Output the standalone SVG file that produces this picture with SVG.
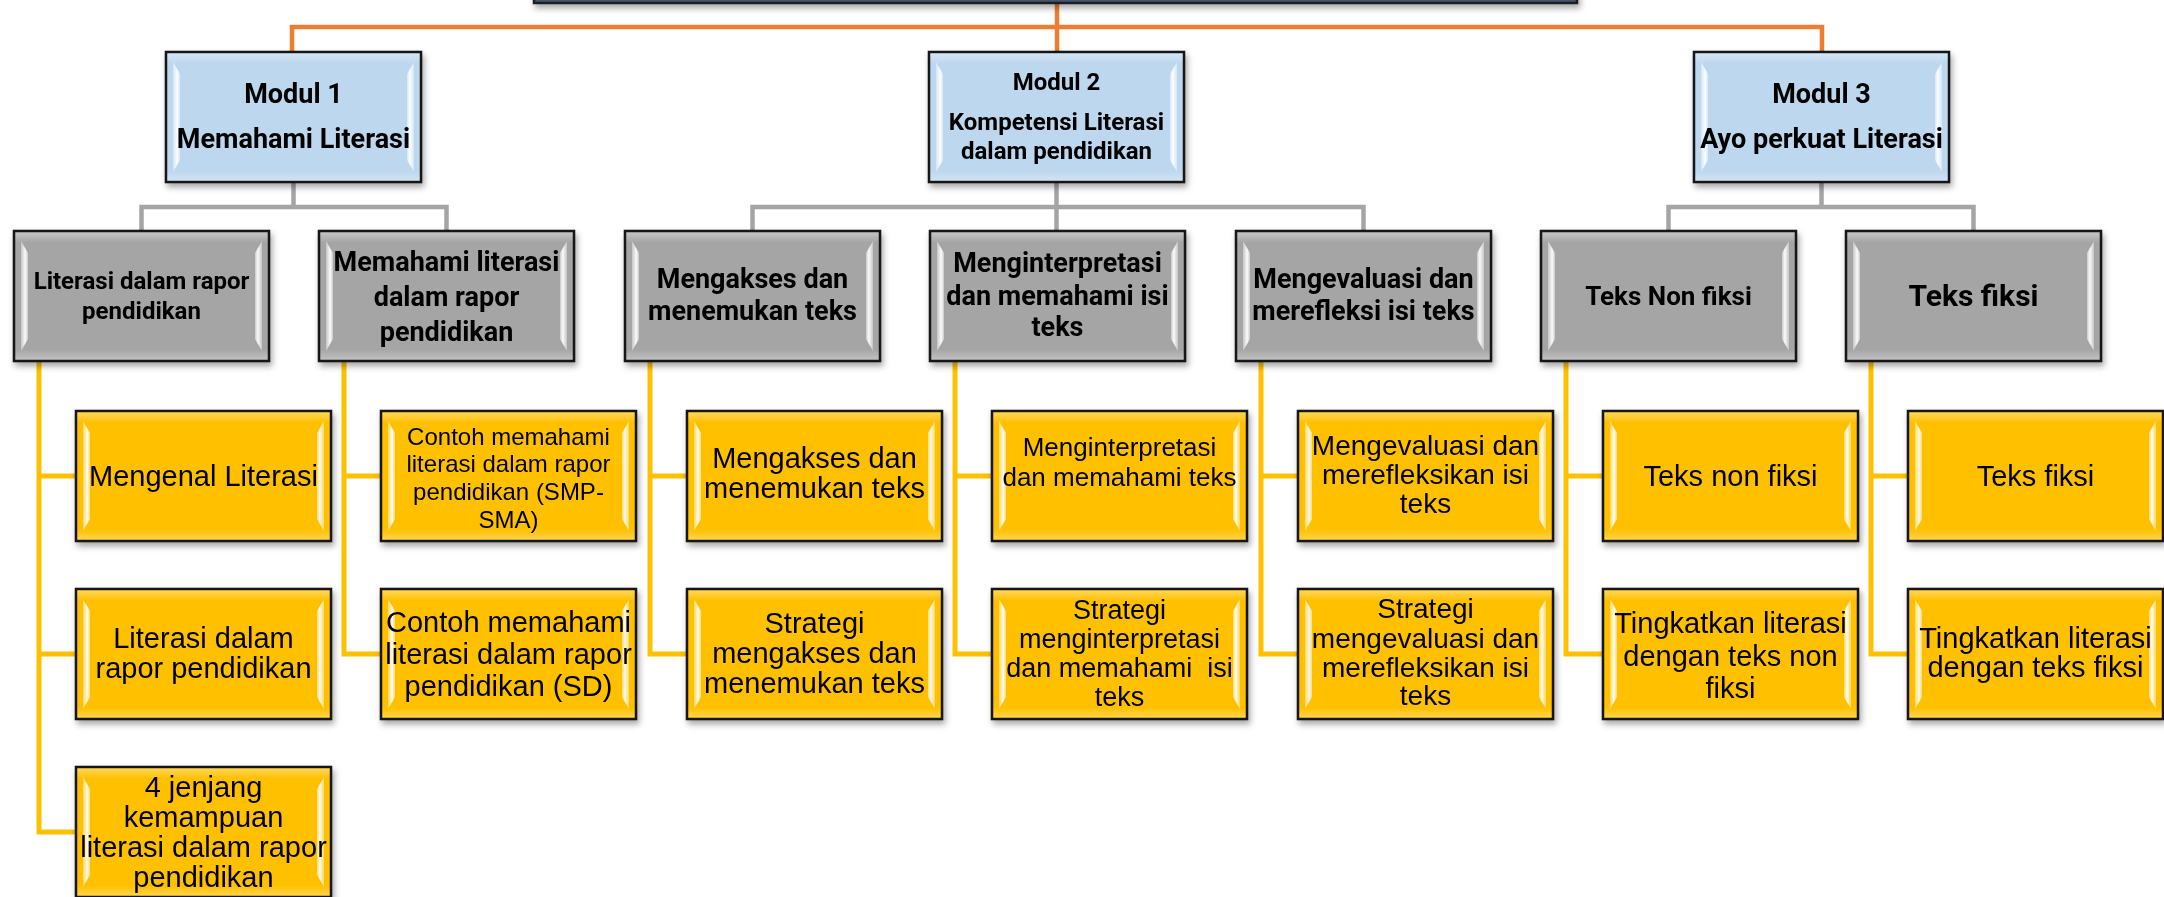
<svg xmlns="http://www.w3.org/2000/svg" xmlns:xlink="http://www.w3.org/1999/xlink" width="2164" height="897" viewBox="0 0 2164 897">
<style>
.box{stroke:#141414;stroke-width:2.5}
.mod{fill:#BDD7EE}
.gry{fill:#A5A5A5}
.yel{fill:#FFC000}
.tb{font-family:Roboto,"Noto Sans","Liberation Sans",sans-serif;font-weight:bold;fill:#000;text-anchor:middle}
.tr{font-family:"Liberation Sans",Arial,sans-serif;fill:#000;text-anchor:middle}
.org{stroke:#ED7D31;stroke-width:4.5;fill:none}
.gc{stroke:#A5A5A5;stroke-width:4.5;fill:none}
.yc{stroke:#FFC000;stroke-width:5;fill:none}
</style>
<defs>
<filter id="sh" x="-10%" y="-10%" width="125%" height="130%">
<feDropShadow dx="2" dy="4" stdDeviation="3" flood-color="#000" flood-opacity="0.35"/>
</filter>
<linearGradient id="hlL" x1="0" x2="1" y1="0" y2="0">
<stop offset="0" stop-color="#fff" stop-opacity="0.35"/>
<stop offset="0.6" stop-color="#fff" stop-opacity="0.95"/>
<stop offset="1" stop-color="#fff" stop-opacity="0.4"/>
</linearGradient>
<linearGradient id="hlR" x1="1" x2="0" y1="0" y2="0">
<stop offset="0" stop-color="#fff" stop-opacity="0.35"/>
<stop offset="0.6" stop-color="#fff" stop-opacity="0.95"/>
<stop offset="1" stop-color="#fff" stop-opacity="0.4"/>
</linearGradient>
<linearGradient id="band" x1="0" x2="0" y1="0" y2="1">
<stop offset="0" stop-color="#fff" stop-opacity="0.35"/>
<stop offset="0.08" stop-color="#fff" stop-opacity="0"/>
<stop offset="0.92" stop-color="#fff" stop-opacity="0"/>
<stop offset="1" stop-color="#fff" stop-opacity="0.3"/>
</linearGradient>
<g id="bev">
<rect x="1.5" y="1.5" width="252" height="127" fill="url(#band)"/>
<polygon points="7,10 14,22 14,108 7,120" fill="url(#hlL)"/>
<polygon points="248,10 241,22 241,108 248,120" fill="url(#hlR)"/>
</g>
</defs>
<rect width="2164" height="897" fill="#fff"/>

<g id="connectors">
<path class="org" d="M292 52 V27 H1822 V52"/>
<path class="org" d="M1057 0 V52"/>
<path class="gc" d="M293.5 182 V207 M141.5 231 V207 H446.5 V231"/>
<path class="gc" d="M1056.5 182 V231 M752.5 231 V207 H1363.5 V231"/>
<path class="gc" d="M1821.5 182 V207 M1668.5 231 V207 H1973.5 V231"/>
<path class="yc" d="M39 361 V832 H76 M39 476 H76 M39 654 H76"/>
<path class="yc" d="M344 361 V654 H381 M344 476 H381"/>
<path class="yc" d="M650 361 V654 H687 M650 476 H687"/>
<path class="yc" d="M955 361 V654 H992 M955 476 H992"/>
<path class="yc" d="M1261 361 V654 H1298 M1261 476 H1298"/>
<path class="yc" d="M1566 361 V654 H1603 M1566 476 H1603"/>
<path class="yc" d="M1871 361 V654 H1908 M1871 476 H1908"/>
</g>

<g id="n-top" filter="url(#sh)">
<rect x="534" y="-60" width="1043" height="63" fill="#44546A" stroke="#1a1f28" stroke-width="2.5"/>
</g>

<g id="n-m1" filter="url(#sh)">
<rect class="box mod" x="166" y="52" width="255" height="130"/>
<use href="#bev" x="166" y="52"/>
<text class="tb" font-size="27" x="293.5" y="103">Modul 1</text>
<text class="tb" font-size="27" x="293.5" y="148">Memahami Literasi</text>
</g>
<g id="n-m2" filter="url(#sh)">
<rect class="box mod" x="929" y="52" width="255" height="130"/>
<use href="#bev" x="929" y="52"/>
<text class="tb" font-size="24" x="1056.5" y="90">Modul 2</text>
<text class="tb" font-size="24" x="1056.5" y="130">Kompetensi Literasi</text>
<text class="tb" font-size="24" x="1056.5" y="159">dalam pendidikan</text>
</g>
<g id="n-m3" filter="url(#sh)">
<rect class="box mod" x="1694" y="52" width="255" height="130"/>
<use href="#bev" x="1694" y="52"/>
<text class="tb" font-size="27" x="1821.5" y="103">Modul 3</text>
<text class="tb" font-size="27" x="1821.5" y="148">Ayo perkuat Literasi</text>
</g>

<g id="n-g0" filter="url(#sh)">
<rect class="box gry" x="14" y="231" width="255" height="130"/>
<use href="#bev" x="14" y="231"/>
<text class="tb" font-size="24" x="141.5" y="289">Literasi dalam rapor</text>
<text class="tb" font-size="24" x="141.5" y="319">pendidikan</text>
</g>
<g id="n-g1" filter="url(#sh)">
<rect class="box gry" x="319" y="231" width="255" height="130"/>
<use href="#bev" x="319" y="231"/>
<text class="tb" font-size="27" x="446.5" y="271">Memahami literasi</text>
<text class="tb" font-size="27" x="446.5" y="306">dalam rapor</text>
<text class="tb" font-size="27" x="446.5" y="341">pendidikan</text>
</g>
<g id="n-g2" filter="url(#sh)">
<rect class="box gry" x="625" y="231" width="255" height="130"/>
<use href="#bev" x="625" y="231"/>
<text class="tb" font-size="27" x="752.5" y="288">Mengakses dan</text>
<text class="tb" font-size="27" x="752.5" y="320">menemukan teks</text>
</g>
<g id="n-g3" filter="url(#sh)">
<rect class="box gry" x="930" y="231" width="255" height="130"/>
<use href="#bev" x="930" y="231"/>
<text class="tb" font-size="27" x="1057.5" y="272">Menginterpretasi</text>
<text class="tb" font-size="27" x="1057.5" y="305">dan memahami isi</text>
<text class="tb" font-size="27" x="1057.5" y="336">teks</text>
</g>
<g id="n-g4" filter="url(#sh)">
<rect class="box gry" x="1236" y="231" width="255" height="130"/>
<use href="#bev" x="1236" y="231"/>
<text class="tb" font-size="27" x="1363.5" y="288">Mengevaluasi dan</text>
<text class="tb" font-size="27" x="1363.5" y="320">merefleksi isi teks</text>
</g>
<g id="n-g5" filter="url(#sh)">
<rect class="box gry" x="1541" y="231" width="255" height="130"/>
<use href="#bev" x="1541" y="231"/>
<text class="tb" font-size="26" x="1668.5" y="305">Teks Non fiksi</text>
</g>
<g id="n-g6" filter="url(#sh)">
<rect class="box gry" x="1846" y="231" width="255" height="130"/>
<use href="#bev" x="1846" y="231"/>
<text class="tb" font-size="30" x="1973.5" y="306">Teks fiksi</text>
</g>

<g id="n-y00" filter="url(#sh)">
<rect class="box yel" x="76" y="411" width="255" height="130"/>
<use href="#bev" x="76" y="411"/>
<text class="tr" font-size="29" x="203.5" y="486">Mengenal Literasi</text>
</g>
<g id="n-y01" filter="url(#sh)">
<rect class="box yel" x="76" y="589" width="255" height="130"/>
<use href="#bev" x="76" y="589"/>
<text class="tr" font-size="29" x="203.5" y="648">Literasi dalam</text>
<text class="tr" font-size="29" x="203.5" y="678">rapor pendidikan</text>
</g>
<g id="n-y02" filter="url(#sh)">
<rect class="box yel" x="76" y="767" width="255" height="130"/>
<use href="#bev" x="76" y="767"/>
<text class="tr" font-size="29" x="203.5" y="797">4 jenjang</text>
<text class="tr" font-size="29" x="203.5" y="827">kemampuan</text>
<text class="tr" font-size="29" x="203.5" y="857">literasi dalam rapor</text>
<text class="tr" font-size="29" x="203.5" y="887">pendidikan</text>
</g>

<g id="n-y10" filter="url(#sh)">
<rect class="box yel" x="381" y="411" width="255" height="130"/>
<use href="#bev" x="381" y="411"/>
<text class="tr" font-size="24" x="508.5" y="445">Contoh memahami</text>
<text class="tr" font-size="24" x="508.5" y="472">literasi dalam rapor</text>
<text class="tr" font-size="24" x="508.5" y="500">pendidikan (SMP-</text>
<text class="tr" font-size="24" x="508.5" y="528">SMA)</text>
</g>
<g id="n-y11" filter="url(#sh)">
<rect class="box yel" x="381" y="589" width="255" height="130"/>
<use href="#bev" x="381" y="589"/>
<text class="tr" font-size="29" x="508.5" y="632">Contoh memahami</text>
<text class="tr" font-size="29" x="508.5" y="664">literasi dalam rapor</text>
<text class="tr" font-size="29" x="508.5" y="696">pendidikan (SD)</text>
</g>

<g id="n-y20" filter="url(#sh)">
<rect class="box yel" x="687" y="411" width="255" height="130"/>
<use href="#bev" x="687" y="411"/>
<text class="tr" font-size="29" x="814.5" y="468">Mengakses dan</text>
<text class="tr" font-size="29" x="814.5" y="498">menemukan teks</text>
</g>
<g id="n-y21" filter="url(#sh)">
<rect class="box yel" x="687" y="589" width="255" height="130"/>
<use href="#bev" x="687" y="589"/>
<text class="tr" font-size="29" x="814.5" y="633">Strategi</text>
<text class="tr" font-size="29" x="814.5" y="663">mengakses dan</text>
<text class="tr" font-size="29" x="814.5" y="693">menemukan teks</text>
</g>

<g id="n-y30" filter="url(#sh)">
<rect class="box yel" x="992" y="411" width="255" height="130"/>
<use href="#bev" x="992" y="411"/>
<text class="tr" font-size="26" x="1119.5" y="456">Menginterpretasi</text>
<text class="tr" font-size="26" x="1119.5" y="486">dan memahami teks</text>
</g>
<g id="n-y31" filter="url(#sh)">
<rect class="box yel" x="992" y="589" width="255" height="130"/>
<use href="#bev" x="992" y="589"/>
<text class="tr" font-size="27" x="1119.5" y="619">Strategi</text>
<text class="tr" font-size="27" x="1119.5" y="648">menginterpretasi</text>
<text class="tr" font-size="27" x="1119.5" y="677" xml:space="preserve">dan memahami  isi</text>
<text class="tr" font-size="27" x="1119.5" y="706">teks</text>
</g>

<g id="n-y40" filter="url(#sh)">
<rect class="box yel" x="1298" y="411" width="255" height="130"/>
<use href="#bev" x="1298" y="411"/>
<text class="tr" font-size="28" x="1425.5" y="455">Mengevaluasi dan</text>
<text class="tr" font-size="28" x="1425.5" y="484">merefleksikan isi</text>
<text class="tr" font-size="28" x="1425.5" y="513">teks</text>
</g>
<g id="n-y41" filter="url(#sh)">
<rect class="box yel" x="1298" y="589" width="255" height="130"/>
<use href="#bev" x="1298" y="589"/>
<text class="tr" font-size="28" x="1425.5" y="618">Strategi</text>
<text class="tr" font-size="28" x="1425.5" y="648">mengevaluasi dan</text>
<text class="tr" font-size="28" x="1425.5" y="677">merefleksikan isi</text>
<text class="tr" font-size="28" x="1425.5" y="705">teks</text>
</g>

<g id="n-y50" filter="url(#sh)">
<rect class="box yel" x="1603" y="411" width="255" height="130"/>
<use href="#bev" x="1603" y="411"/>
<text class="tr" font-size="29" x="1730.5" y="486">Teks non fiksi</text>
</g>
<g id="n-y51" filter="url(#sh)">
<rect class="box yel" x="1603" y="589" width="255" height="130"/>
<use href="#bev" x="1603" y="589"/>
<text class="tr" font-size="29" x="1730.5" y="633">Tingkatkan literasi</text>
<text class="tr" font-size="29" x="1730.5" y="666">dengan teks non</text>
<text class="tr" font-size="29" x="1730.5" y="698">fiksi</text>
</g>

<g id="n-y60" filter="url(#sh)">
<rect class="box yel" x="1908" y="411" width="255" height="130"/>
<use href="#bev" x="1908" y="411"/>
<text class="tr" font-size="29" x="2035.5" y="486">Teks fiksi</text>
</g>
<g id="n-y61" filter="url(#sh)">
<rect class="box yel" x="1908" y="589" width="255" height="130"/>
<use href="#bev" x="1908" y="589"/>
<text class="tr" font-size="29" x="2035.5" y="648">Tingkatkan literasi</text>
<text class="tr" font-size="29" x="2035.5" y="677">dengan teks fiksi</text>
</g>
</svg>
